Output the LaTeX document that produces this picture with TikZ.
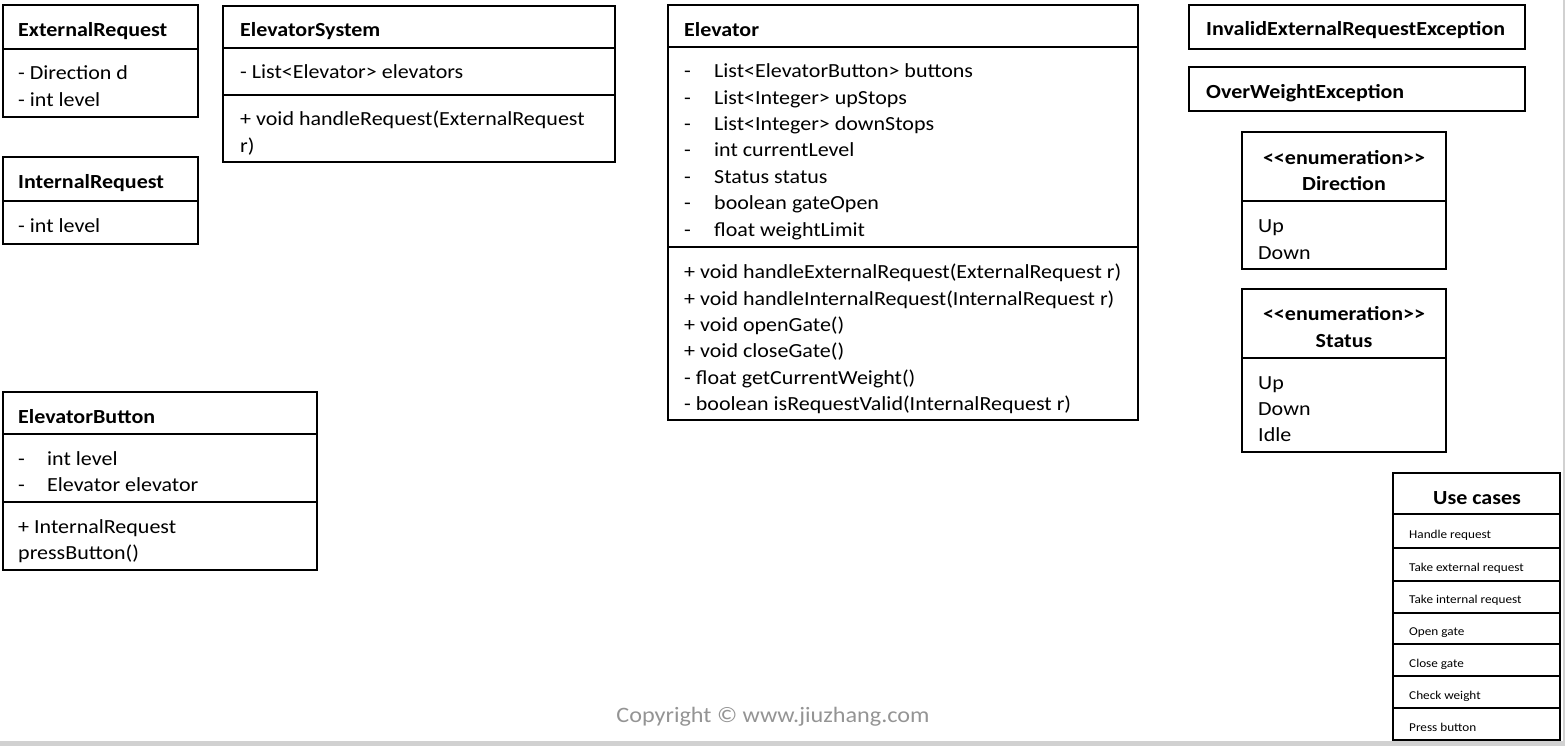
\documentclass[tikz,border=0pt]{standalone}
\usepackage{fontspec}
\setmainfont{Carlito}[FakeStretch=1.1]
\begin{document}
\begin{tikzpicture}[x=1pt,y=-1pt,
  t/.style={anchor=west, inner sep=0, font=\fontsize{20}{24}\selectfont, text height=18, text depth=2},
  tb/.style={t, font=\fontsize{20}{24}\selectfont\bfseries},
  tc/.style={tb, anchor=center},
  tu/.style={anchor=west, inner sep=0, font=\fontsize{12}{14}\selectfont, text height=10.5, text depth=0.5},
  box/.style={draw, line width=1.7pt},
  sep/.style={line width=1.7pt}]
\useasboundingbox (0,0) rectangle (1565,746);
\fill[black!18] (0,741) rectangle (1565,746);
\fill[black!18] (1563,0) rectangle (1565,746);

% ExternalRequest
\draw[box] (3,5) rectangle (198,117);
\draw[sep] (3,49) -- (198,49);
\node[tb] (er) at (18,29) {ExternalRequest};
\node[t] (er1) at (18,72) {- Direction d};
\node[t] (er2) at (18,99) {- int level};

% InternalRequest
\draw[box] (3,157) rectangle (198,244);
\draw[sep] (3,201) -- (198,201);
\node[tb] (ir) at (18,181) {InternalRequest};
\node[t] (ir1) at (18,224) {- int level};

% ElevatorSystem
\draw[box] (223,6) rectangle (615,162);
\draw[sep] (223,48) -- (615,48);
\draw[sep] (223,95) -- (615,95);
\node[tb] (es) at (240,29) {ElevatorSystem};
\node[t] (es1) at (240,71) {- List<Elevator> elevators};
\node[t] (es2) at (240,118) {+ void handleRequest(ExternalRequest};
\node[t] (es3) at (240,145) {r)};

% Elevator
\draw[box] (668,5) rectangle (1138,420);
\draw[sep] (668,47) -- (1138,47);
\draw[sep] (668,247) -- (1138,247);
\node[tb] (el) at (684,29) {Elevator};
\foreach \y/\s [count=\i] in {70/{List<ElevatorButton> buttons},97/{List<Integer> upStops},123/{List<Integer> downStops},149/{int currentLevel},176/{Status status},202/{boolean gateOpen},228/{float weightLimit}}{
  \node[t] (eld\i) at (684,\y) {-};
  \node[t] (ela\i) at (714,\y) {\s};
}
\node[t] (elm1) at (684,270) {+ void handleExternalRequest(ExternalRequest r)};
\node[t] (elm2) at (684,297) {+ void handleInternalRequest(InternalRequest r)};
\node[t] (elm3) at (684,323) {+ void openGate()};
\node[t] (elm4) at (684,349) {+ void closeGate()};
\node[t] (elm5) at (684,376) {- float getCurrentWeight()};
\node[t] (elm6) at (684,402) {- boolean isRequestValid(InternalRequest r)};

% Exceptions
\draw[box] (1189,5) rectangle (1525,49);
\node[tb] (iex) at (1206,28) {InvalidExternalRequestException};
\draw[box] (1189,67) rectangle (1525,111);
\node[tb] (owx) at (1206,91) {OverWeightException};

% Direction
\draw[box] (1242,132) rectangle (1446,269);
\draw[sep] (1242,201) -- (1446,201);
\node[tc] (d0) at (1344,157) {{<}{<}enumeration{>}{>}};
\node[tc] (d1) at (1344,183) {Direction};
\node[t] (d2) at (1258,224) {Up};
\node[t] (d3) at (1258,251) {Down};

% Status
\draw[box] (1242,289) rectangle (1446,452);
\draw[sep] (1242,358) -- (1446,358);
\node[tc] (s0) at (1344,312) {{<}{<}enumeration{>}{>}};
\node[tc] (s1) at (1344,339) {Status};
\node[t] (s2) at (1258,381) {Up};
\node[t] (s3) at (1258,407) {Down};
\node[t] (s4) at (1258,433) {Idle};

% ElevatorButton
\draw[box] (3,392) rectangle (317,570);
\draw[sep] (3,434) -- (317,434);
\draw[sep] (3,502) -- (317,502);
\node[tb] (eb) at (18,415) {ElevatorButton};
\node[t] (ebd1) at (18,457) {-};
\node[t] (eba1) at (47,457) {int level};
\node[t] (ebd2) at (18,483) {-};
\node[t] (eba2) at (47,483) {Elevator elevator};
\node[t] (ebm1) at (18,525) {+ InternalRequest};
\node[t] (ebm2) at (18,551) {pressButton()};

% Use cases
\draw[box] (1393,473) rectangle (1560,740);
\foreach \y in {514,548,581,613,644,676,708}{\draw[sep] (1393,\y) -- (1560,\y);}
\node[tc] (uc) at (1477,496) {Use cases};
\node[tu] (uc1) at (1409,533) {Handle request};
\node[tu] (uc2) at (1409,566) {Take external request};
\node[tu] (uc3) at (1409,598) {Take internal request};
\node[tu] (uc4) at (1409,630) {Open gate};
\node[tu] (uc5) at (1409,662) {Close gate};
\node[tu] (uc6) at (1409,694) {Check weight};
\node[tu] (uc7) at (1409,726) {Press button};

% Copyright
\node[t, anchor=center, font=\fontsize{22}{26}\selectfont, text=black!42] (cp) at (773,714) {Copyright © www.jiuzhang.com};
\end{tikzpicture}
\end{document}
